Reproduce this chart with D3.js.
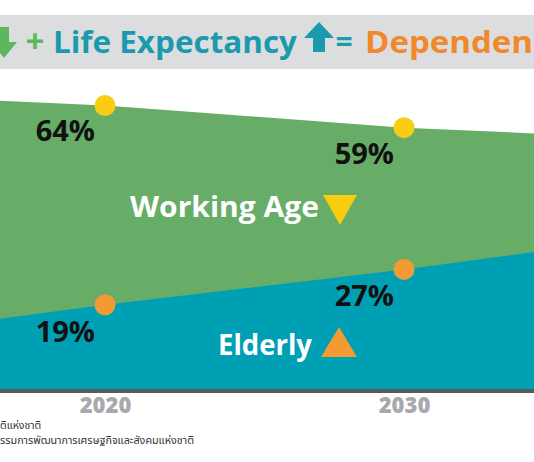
<!DOCTYPE html>
<html>
<head>
  <meta charset="utf-8">
  <title>Working Age vs Elderly</title>
  <script src="https://d3js.org/d3.v7.min.js"></script>
  <style>
    body { margin: 0; background: #fff; }
    svg { display: block; overflow: hidden; }
    text { font-family: "Open Sans", "Noto Sans", sans-serif; font-weight: 700; }
    .foot { font-family: "Noto Sans", "Noto Sans Thai", "DejaVu Sans", sans-serif; font-weight: 400; }
  </style>
</head>
<body>
  <svg width="534" height="462"></svg>

  <script>
    // data (edge years are only there to carry the bands to the sides)
    const years = [2015, 2020, 2030, 2035];
    const workingAge = [65.5, 64, 59, 57.5];
    const elderly = [14.5, 19, 27, 31.5];
    const tickYears = [2020, 2030];
    const footLines = ["ติแห่งชาติ", "รรมการพัฒนาการเศรษฐกิจและสังคมแห่งชาติ"];

    const width = 534;
    const svg = d3.select("svg");

    const x = d3.scaleLinear().domain([2020, 2030]).range([105, 404]);
    const y = d3.scaleLinear().domain([0, 100]).range([389, -54]);

    const rows = years.map((yr, i) => ({ year: yr, work: workingAge[i], old: elderly[i] }));
    const labelled = rows.filter(d => tickYears.includes(d.year));

    // header band
    svg.append("rect").attr("x", 0).attr("y", 15).attr("width", width).attr("height", 54)
      .attr("fill", "#dcdddf");
    svg.append("path").attr("d", "M0,27H9V42H17L4,58L-9,42H0Z").attr("fill", "#5cb85c");
    svg.append("text").attr("x", 35).attr("y", 53).attr("text-anchor", "middle")
      .attr("font-size", 33).attr("fill", "#5cb85c").text("+");
    svg.append("text").attr("x", 53).attr("y", 53).attr("font-size", 30)
      .attr("textLength", 244).attr("lengthAdjust", "spacingAndGlyphs")
      .attr("fill", "#1b9aae").text("Life Expectancy");
    svg.append("path").attr("d", "M319,22L334,38H325V52H313V38H304Z").attr("fill", "#1b9aae");
    svg.append("text").attr("x", 344).attr("y", 52).attr("text-anchor", "middle")
      .attr("font-size", 30).attr("fill", "#1b9aae").text("=");
    svg.append("text").attr("x", 365).attr("y", 53).attr("font-size", 31)
      .attr("textLength", 168).attr("lengthAdjust", "spacingAndGlyphs")
      .attr("fill", "#f0892b").text("Dependen");

    // bands
    const workArea = d3.area().x(d => x(d.year)).y0(y(0)).y1(d => y(d.work));
    const oldArea = d3.area().x(d => x(d.year)).y0(y(0)).y1(d => y(d.old));

    svg.append("path").datum(rows).attr("d", workArea).attr("fill", "#67ad67");
    svg.append("path").datum(rows).attr("d", oldArea).attr("fill", "#00a0b4");

    // baseline + year labels
    svg.append("rect").attr("x", 0).attr("y", y(0)).attr("width", width).attr("height", 4)
      .attr("fill", "#58595b");
    const axis = svg.append("g").attr("transform", `translate(0,${y(0) + 2})`)
      .call(d3.axisBottom(x).tickValues(tickYears).tickFormat(d3.format("d")).tickSize(0));
    axis.select(".domain").remove();
    axis.selectAll("text").attr("y", 22).attr("dy", null)
      .attr("font-size", 22).attr("fill", "#a7a9ac")
      .style("font-family", "'Open Sans', sans-serif").style("font-weight", 800);

    // points + value labels
    svg.selectAll("circle.work").data(labelled).join("circle").attr("class", "work")
      .attr("cx", d => x(d.year)).attr("cy", d => y(d.work)).attr("r", 10.5).attr("fill", "#f8cd12");
    svg.selectAll("circle.old").data(labelled).join("circle").attr("class", "old")
      .attr("cx", d => x(d.year)).attr("cy", d => y(d.old)).attr("r", 10.5).attr("fill", "#f39a32");

    svg.selectAll("text.wl").data(labelled).join("text").attr("class", "wl")
      .attr("x", d => x(d.year) - 10).attr("y", d => y(d.work) + 36)
      .attr("text-anchor", "end").attr("font-size", 29).attr("fill", "#111")
      .text(d => d.work + "%");
    svg.selectAll("text.ol").data(labelled).join("text").attr("class", "ol")
      .attr("x", d => x(d.year) - 10).attr("y", d => y(d.old) + 37)
      .attr("text-anchor", "end").attr("font-size", 29).attr("fill", "#111")
      .text(d => d.old + "%");

    // band names
    svg.append("text").attr("x", 130).attr("y", 217).attr("font-size", 28)
      .attr("textLength", 189).attr("lengthAdjust", "spacingAndGlyphs")
      .attr("fill", "#fff").text("Working Age");
    svg.append("path").attr("d", "M323,195H357L340,225Z").attr("fill", "#f8cd12");
    svg.append("text").attr("x", 218).attr("y", 355).attr("font-size", 28)
      .attr("textLength", 94).attr("lengthAdjust", "spacingAndGlyphs")
      .attr("fill", "#fff").text("Elderly");
    svg.append("path").attr("d", "M321,357H357L339,327Z").attr("fill", "#f39a32");

    // source
    svg.append("text").attr("class", "foot").attr("x", 0).attr("y", 429)
      .attr("font-size", 10.5).attr("fill", "#333").text(footLines[0]);
    svg.append("text").attr("class", "foot").attr("x", 0).attr("y", 444)
      .attr("font-size", 10.5).attr("textLength", 194).attr("lengthAdjust", "spacingAndGlyphs")
      .attr("fill", "#333").text(footLines[1]);
  </script>
</body>
</html>
